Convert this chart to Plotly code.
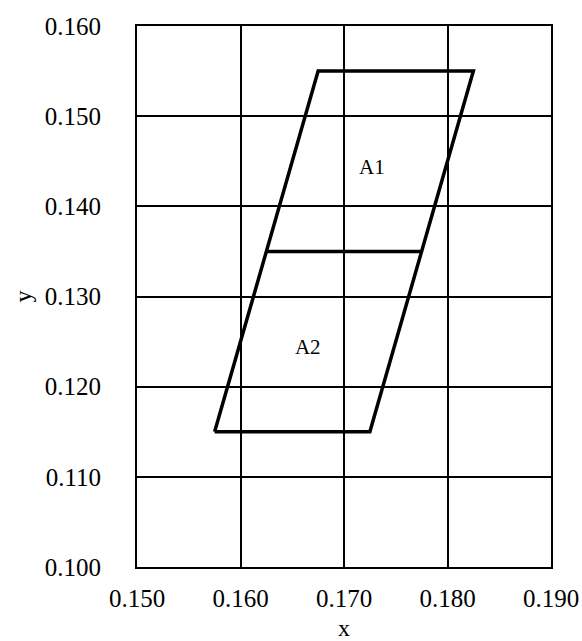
import plotly.graph_objects as go

# Parallelogram outline (x, y) vertices, closed
outline_x = [0.1575, 0.1725, 0.1825, 0.1675, 0.1575]
outline_y = [0.115, 0.115, 0.155, 0.155, 0.115]
# Middle dividing line
mid_x = [0.1625, 0.1775]
mid_y = [0.135, 0.135]
# Region labels
label_text = ["A1", "A2"]
label_x = [0.1727, 0.1665]
label_y = [0.1442, 0.1242]

x_ticks = [0.150, 0.160, 0.170, 0.180, 0.190]
y_ticks = [0.100, 0.110, 0.120, 0.130, 0.140, 0.150, 0.160]

FONT = "Liberation Serif"

fig = go.Figure()
fig.add_trace(go.Scatter(x=outline_x, y=outline_y, mode="lines",
                         line=dict(color="black", width=3.5), showlegend=False))
fig.add_trace(go.Scatter(x=mid_x, y=mid_y, mode="lines",
                         line=dict(color="black", width=3.5), showlegend=False))
fig.add_trace(go.Scatter(x=label_x, y=label_y, mode="text", text=label_text,
                         textfont=dict(family=FONT, size=21, color="black"),
                         showlegend=False))

fig.update_layout(
    width=582, height=641,
    margin=dict(l=137, r=31, t=26, b=74),
    plot_bgcolor="white", paper_bgcolor="white",
    font=dict(family=FONT, size=25, color="black"),
)
fig.update_xaxes(
    range=[0.150, 0.190], tickvals=x_ticks, tickformat=".3f",
    showgrid=True, gridcolor="black", gridwidth=2,
    showline=True, linecolor="black", linewidth=2, mirror=True,
    zeroline=False, ticks="outside", ticklen=8, tickcolor="rgba(0,0,0,0)",
    automargin=False, ticklabeloverflow="allow",
    title=dict(text="x", font=dict(family=FONT, size=24), standoff=18),
)
fig.update_yaxes(
    range=[0.100, 0.160], tickvals=y_ticks, tickformat=".3f",
    showgrid=True, gridcolor="black", gridwidth=2,
    showline=True, linecolor="black", linewidth=2, mirror=True,
    zeroline=False, ticks="outside", ticklen=29, tickcolor="rgba(0,0,0,0)",
    automargin=False,
    title=dict(text="y", font=dict(family=FONT, size=24), standoff=6),
)

fig.write_html(
    "out.html",
    config={"displayModeBar": False},
    post_script="document.body.style.margin='0';document.body.style.overflow='hidden';",
)
